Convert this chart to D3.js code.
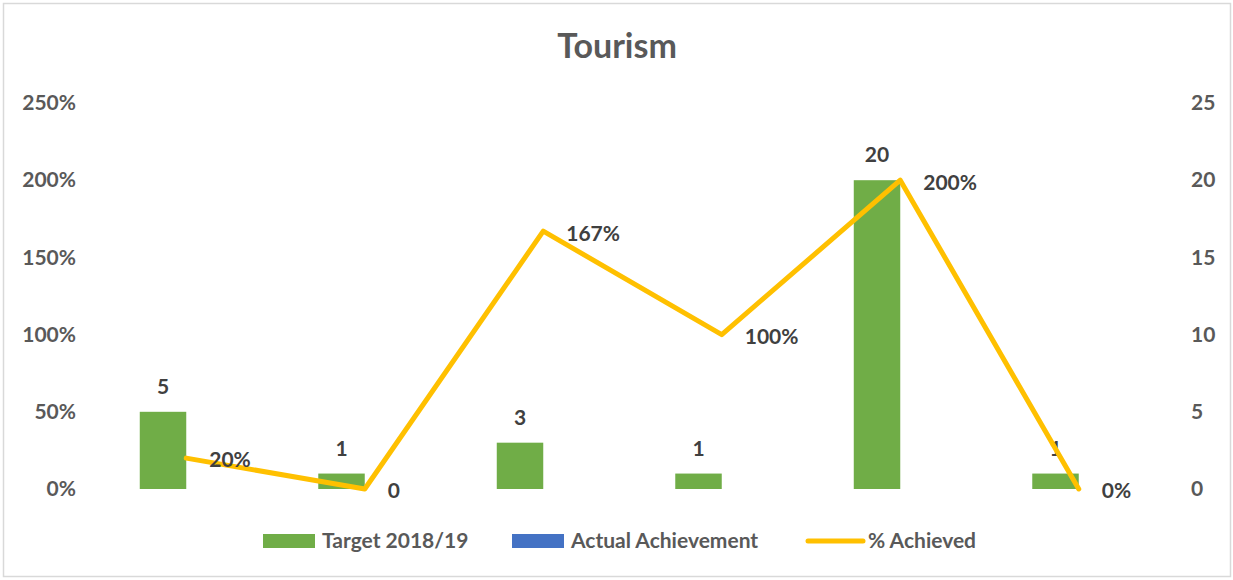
<!DOCTYPE html>
<html>
<head>
<meta charset="utf-8">
<script src="https://cdn.jsdelivr.net/npm/d3@7"></script>
<style>
  html, body { margin: 0; padding: 0; background: #fff; }
  svg text { font-family: Lato, "Open Sans", sans-serif; font-weight: bold; }
</style>
</head>
<body>
<svg id="chart" width="1233" height="580"></svg>
<script>
const categories = ['A', 'B', 'C', 'D', 'E', 'F'];
const target = [5, 1, 3, 1, 20, 1];
const actual = [0, 0, 0, 0, 0, 0];
const pctAchieved = [0.2, 0, 1.67, 1.0, 2.0, 0];
const pctLabels = ['20%', '0', '167%', '100%', '200%', '0%'];
const leftTicks = [0, 0.5, 1, 1.5, 2, 2.5];
const rightTicks = [0, 5, 10, 15, 20, 25];
const seriesNames = ['Target 2018/19', 'Actual Achievement', '% Achieved'];

const svg = d3.select('#chart');

// chart border
svg.append('rect')
  .attr('x', 3.5).attr('y', 3.5)
  .attr('width', 1227).attr('height', 573)
  .attr('fill', '#fff')
  .attr('stroke', '#d9d9d9')
  .attr('stroke-width', 1.5);

svg.append('text')
  .attr('x', 617).attr('y', 58)
  .attr('text-anchor', 'middle')
  .attr('font-size', 34)
  .attr('fill', '#595959')
  .text('Tourism');

const x0 = d3.scaleBand().domain(categories).range([97, 1168]).padding(0);
const x1 = d3.scaleBand().domain(['target', 'actual'])
  .range([0, x0.bandwidth()]).paddingInner(0).paddingOuter(0.92);
const yLeft = d3.scaleLinear().domain([0, 2.5]).range([489, 103]);
const yRight = d3.scaleLinear().domain([0, 25]).range([489, 103]);

const leftAxis = svg.append('g')
  .attr('transform', 'translate(80,0)')
  .call(d3.axisLeft(yLeft).tickValues(leftTicks).tickSize(0).tickPadding(4).tickFormat(d3.format('.0%')));
const rightAxis = svg.append('g')
  .attr('transform', 'translate(1187,0)')
  .call(d3.axisRight(yRight).tickValues(rightTicks).tickSize(0).tickPadding(4));
[leftAxis, rightAxis].forEach(g => {
  g.select('.domain').remove();
  g.selectAll('text')
    .attr('font-size', 21)
    .attr('fill', '#595959')
    .style('font-family', 'Lato, "Open Sans", sans-serif')
    .style('font-weight', 'bold');
});

const rows = categories.map((c, i) => ({ c, target: target[i], actual: actual[i], pct: pctAchieved[i], label: pctLabels[i] }));

// target bars
svg.append('g').selectAll('rect')
  .data(rows)
  .enter().append('rect')
  .attr('x', d => x0(d.c) + x1('target'))
  .attr('y', d => yRight(d.target))
  .attr('width', x1.bandwidth())
  .attr('height', d => yRight(0) - yRight(d.target))
  .attr('fill', '#70ad47');

// actual bars
svg.append('g').selectAll('rect')
  .data(rows)
  .enter().append('rect')
  .attr('x', d => x0(d.c) + x1('actual'))
  .attr('y', d => yRight(d.actual))
  .attr('width', x1.bandwidth())
  .attr('height', d => yRight(0) - yRight(d.actual))
  .attr('fill', '#4472c4');

svg.append('g').selectAll('text')
  .data(rows)
  .enter().append('text')
  .attr('x', d => x0(d.c) + x1('target') + x1.bandwidth() / 2)
  .attr('y', d => yRight(d.target) - 18)
  .attr('text-anchor', 'middle')
  .attr('font-size', 21)
  .attr('fill', '#404040')
  .text(d => d.target);

const cx = d => x0(d.c) + x0.bandwidth() / 2;

svg.append('path')
  .datum(rows)
  .attr('fill', 'none')
  .attr('stroke', '#ffc000')
  .attr('stroke-width', 5)
  .attr('stroke-linejoin', 'round')
  .attr('stroke-linecap', 'round')
  .attr('d', d3.line().x(cx).y(d => yLeft(d.pct)));

svg.append('g').selectAll('text')
  .data(rows)
  .enter().append('text')
  .attr('x', d => cx(d) + 23)
  .attr('y', d => yLeft(d.pct) + 2)
  .attr('dy', '0.35em')
  .attr('font-size', 21)
  .attr('fill', '#404040')
  .text(d => d.label);

// legend
const legend = svg.append('g');
const lx = [263, 512, 808];
legend.append('rect').attr('x', lx[0]).attr('y', 534).attr('width', 52).attr('height', 14).attr('fill', '#70ad47');
legend.append('rect').attr('x', lx[1]).attr('y', 534).attr('width', 52).attr('height', 14).attr('fill', '#4472c4');
legend.append('line').attr('x1', lx[2]).attr('x2', lx[2] + 55).attr('y1', 541).attr('y2', 541)
  .attr('stroke', '#ffc000').attr('stroke-width', 5).attr('stroke-linecap', 'round');
legend.selectAll('text')
  .data(seriesNames)
  .enter().append('text')
  .attr('x', (d, i) => lx[i] + (i === 2 ? 60 : 59))
  .attr('y', 541)
  .attr('dy', '0.35em')
  .attr('font-size', 21)
  .attr('fill', '#595959')
  .text(d => d);
</script>
</body>
</html>
